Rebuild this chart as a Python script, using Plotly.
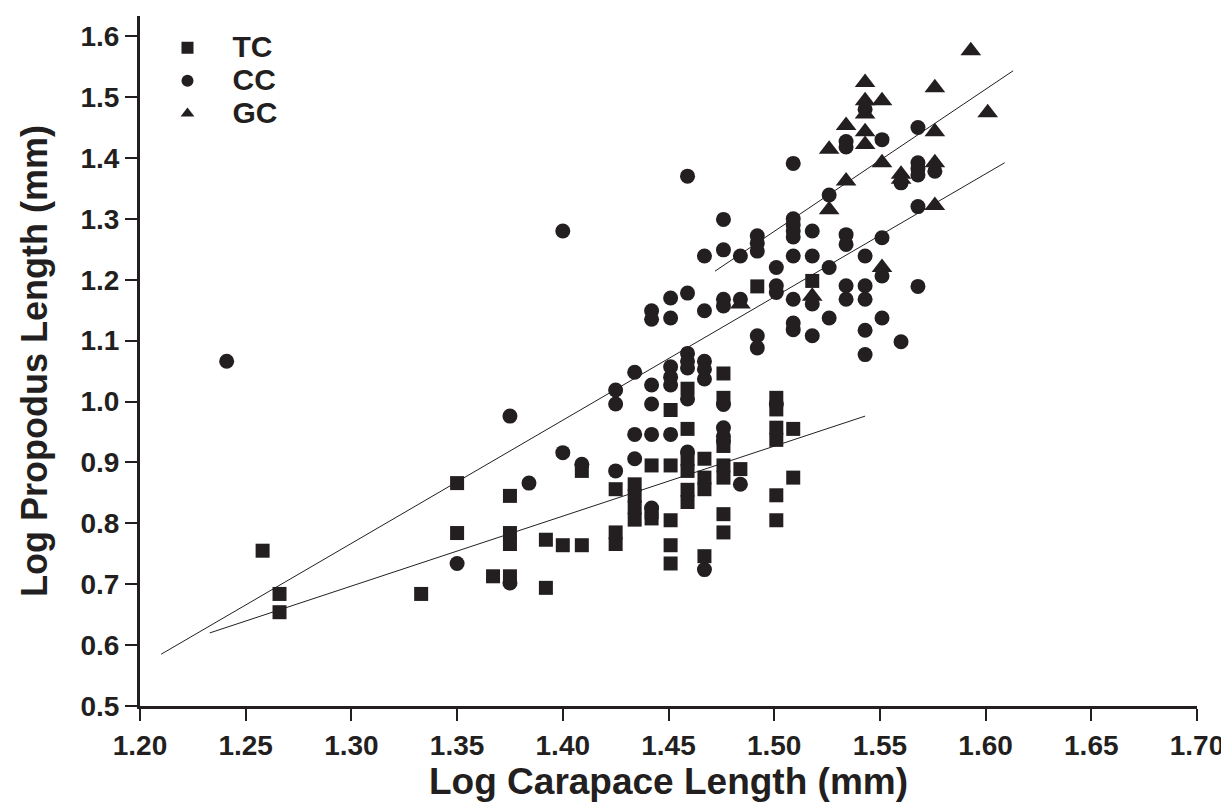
import plotly.graph_objects as go

# TC (squares)
tc_x = [1.258, 1.266, 1.266, 1.333, 1.350, 1.350, 1.367, 1.375, 1.375, 1.375, 1.375, 1.392, 1.392,
        1.400, 1.409, 1.409, 1.425, 1.425, 1.425, 1.434, 1.434, 1.434, 1.434, 1.442, 1.442, 1.442,
        1.451, 1.451, 1.451, 1.451, 1.451, 1.459, 1.459, 1.459, 1.459, 1.459, 1.459,
        1.467, 1.467, 1.467, 1.467, 1.476, 1.476, 1.476, 1.476, 1.476, 1.476, 1.476, 1.484,
        1.501, 1.501, 1.501, 1.501, 1.501, 1.501, 1.509, 1.509, 1.492, 1.518]
tc_y = [0.755, 0.684, 0.654, 0.684, 0.866, 0.784, 0.713, 0.845, 0.784, 0.766, 0.713, 0.773, 0.694,
        0.764, 0.764, 0.886, 0.856, 0.785, 0.766, 0.864, 0.845, 0.826, 0.806, 0.895, 0.818, 0.808,
        0.986, 0.895, 0.805, 0.764, 0.734, 1.021, 0.955, 0.905, 0.886, 0.855, 0.835,
        0.906, 0.875, 0.856, 0.746, 1.046, 1.006, 0.927, 0.895, 0.875, 0.815, 0.785, 0.889,
        1.006, 0.987, 0.957, 0.937, 0.846, 0.805, 0.955, 0.875, 1.189, 1.198]

# CC (circles)
cc_x = [1.241, 1.350, 1.375, 1.375, 1.384, 1.400, 1.400, 1.409,
        1.425, 1.425, 1.425, 1.434, 1.434, 1.434,
        1.442, 1.442, 1.442, 1.442, 1.442, 1.442,
        1.451, 1.451, 1.451, 1.451, 1.451, 1.451,
        1.459, 1.459, 1.459, 1.459, 1.459, 1.459, 1.459,
        1.467, 1.467, 1.467, 1.467, 1.467, 1.467,
        1.476, 1.476, 1.476, 1.476, 1.476, 1.476, 1.476, 1.476,
        1.484, 1.484, 1.484, 1.492, 1.492, 1.492, 1.492, 1.492,
        1.501, 1.501, 1.501, 1.501,
        1.509, 1.509, 1.509, 1.509, 1.509, 1.509, 1.509, 1.509, 1.509,
        1.518, 1.518, 1.518, 1.518, 1.526, 1.526, 1.526,
        1.534, 1.534, 1.534, 1.534, 1.534, 1.534,
        1.543, 1.543, 1.543, 1.543, 1.543, 1.543,
        1.551, 1.551, 1.551, 1.551, 1.560, 1.560,
        1.568, 1.568, 1.568, 1.568, 1.568, 1.568, 1.576]
cc_y = [1.066, 0.734, 0.976, 0.702, 0.866, 0.916, 1.280, 0.897,
        1.019, 0.996, 0.886, 1.048, 0.946, 0.906,
        1.027, 0.996, 0.946, 0.825, 1.149, 1.135,
        1.057, 1.040, 1.027, 0.946, 1.170, 1.137,
        1.079, 1.066, 1.055, 1.004, 0.917, 1.178, 1.370,
        1.066, 1.053, 1.037, 0.724, 1.149, 1.239,
        0.995, 0.957, 0.943, 0.935, 1.168, 1.157, 1.299, 1.249,
        0.864, 1.168, 1.239, 1.272, 1.260, 1.247, 1.108, 1.088,
        0.996, 1.220, 1.190, 1.179,
        1.300, 1.290, 1.280, 1.270, 1.239, 1.168, 1.129, 1.118, 1.391,
        1.280, 1.239, 1.160, 1.108, 1.220, 1.137, 1.339,
        1.274, 1.258, 1.190, 1.168, 1.427, 1.418,
        1.239, 1.190, 1.168, 1.117, 1.077, 1.480,
        1.430, 1.269, 1.206, 1.137, 1.098, 1.359,
        1.450, 1.392, 1.382, 1.372, 1.320, 1.189, 1.378]

# GC (triangles)
gc_x = [1.484, 1.518, 1.526, 1.526, 1.534, 1.534, 1.543, 1.543, 1.543, 1.543, 1.543,
        1.551, 1.551, 1.551, 1.560, 1.560, 1.576, 1.576, 1.576, 1.576, 1.593, 1.601]
gc_y = [1.160, 1.173, 1.414, 1.315, 1.453, 1.362, 1.524, 1.494, 1.472, 1.443, 1.422,
        1.494, 1.392, 1.220, 1.373, 1.365, 1.515, 1.443, 1.392, 1.322, 1.576, 1.474]

# fitted lines (end points)
tc_fit_x = [1.233, 1.543]
tc_fit_y = [0.620, 0.976]
cc_fit_x = [1.210, 1.609]
cc_fit_y = [0.585, 1.392]
gc_fit_x = [1.472, 1.613]
gc_fit_y = [1.214, 1.543]

ink = '#231f20'

def legname(s):
    # bigger text inside a legend whose row height follows the smaller legend font
    return '<b><span style="font-size:30px">\u00a0\u00a0\u00a0' + s + '</span></b>'

fig = go.Figure()
fig.add_trace(go.Scatter(x=tc_x, y=tc_y, mode='markers', name=legname('TC'),
                         marker=dict(symbol='square', size=14, color=ink)))
fig.add_trace(go.Scatter(x=cc_x, y=cc_y, mode='markers', name=legname('CC'),
                         marker=dict(symbol='circle', size=15, color=ink)))
fig.add_trace(go.Scatter(x=gc_x, y=gc_y, mode='markers', name=legname('GC'),
                         marker=dict(symbol='triangle-up', size=18, color=ink)))
for fx, fy in [(tc_fit_x, tc_fit_y), (cc_fit_x, cc_fit_y), (gc_fit_x, gc_fit_y)]:
    fig.add_trace(go.Scatter(x=fx, y=fy, mode='lines', showlegend=False,
                             line=dict(color=ink, width=1)))

fig.update_layout(
    width=1229, height=804,
    margin=dict(l=132, r=40, t=8, b=106),
    plot_bgcolor='white', paper_bgcolor='white',
    font=dict(family='Liberation Sans, Arial', color=ink),
    showlegend=True,
    legend=dict(x=0.026, y=0.985, xanchor='left', yanchor='top', itemsizing='constant',
                font=dict(size=23), bgcolor='rgba(0,0,0,0)'),
)
fig.update_xaxes(range=[1.20, 1.70], dtick=0.05, tick0=1.20, tickformat='.2f',
                 tickprefix='<b>', ticksuffix='</b>',
                 showline=True, linecolor=ink, linewidth=3, showgrid=False, zeroline=False,
                 ticks='outside', ticklen=12, tickwidth=2, tickcolor=ink,
                 tickfont=dict(size=28), automargin=False,
                 title=dict(text='<b>Log Carapace Length (mm)</b>', font=dict(size=37), standoff=4))
fig.update_yaxes(range=[0.5, 1.633], dtick=0.1, tick0=0.5, tickformat='.1f',
                 tickprefix='<b>', ticksuffix='</b>',
                 showline=True, linecolor=ink, linewidth=3, showgrid=False, zeroline=False,
                 ticks='outside', ticklen=12, tickwidth=2, tickcolor=ink,
                 tickfont=dict(size=28), automargin=False,
                 title=dict(text='<b>Log Propodus Length (mm)</b>', font=dict(size=36), standoff=22))

fig.write_html('out.html')
